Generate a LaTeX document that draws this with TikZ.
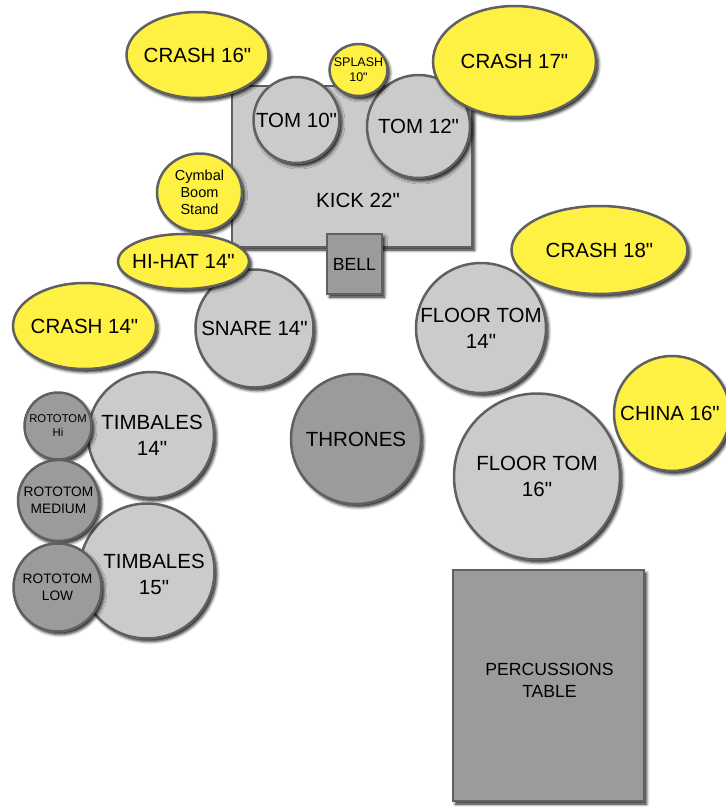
\documentclass[tikz,border=0pt]{standalone}
\usepackage{fontspec}
\setmainfont{Liberation Sans}[Ligatures=TeXOff]
\usetikzlibrary{shapes.geometric,shadows.blur}
\definecolor{cymyel}{HTML}{FFF044}
\definecolor{drumlt}{HTML}{CBCBCB}
\definecolor{drumdk}{HTML}{9B9B9B}
\definecolor{rim}{HTML}{606060}
\tikzset{
  base/.style={draw=rim, line width=2.5pt, inner sep=0pt, text=black, align=center,
    blur shadow={shadow xshift=2.5pt, shadow yshift=-3pt, shadow blur radius=3pt, shadow opacity=90}},
  drum/.style={base, circle, fill=drumlt, minimum size=#1},
  ddrum/.style={base, circle, fill=drumdk, minimum size=#1},
  cym/.style={base, ellipse, fill=cymyel},
  box/.style={base, rectangle},
  lbl/.style={inner sep=0pt, align=center, text=black},
  big/.style={font=\fontsize{20.5}{26}\selectfont},
}
\begin{document}
\begin{tikzpicture}[x=1pt,y=-1pt]
\useasboundingbox (0,0) rectangle (726,807);
% kick
\node[box, fill=drumlt, minimum width=240, minimum height=161] (kick) at (352,166.5) {};
\node[lbl, big] (kicklbl) at (358,200) {KICK 22"};
% toms
\node[drum=86, big] (tom10) at (296.5,120) {TOM 10"};
\node[drum=103, big] (tom12) at (418.5,126.5) {TOM 12"};
% cymbals top
\node[cym, minimum width=142, minimum height=86] (crash16) at (197.5,55) {};
\node[lbl, big] (crash16lbl) at (crash16) {CRASH 16"};
\node[cym, minimum width=58, minimum height=52] (splash) at (358.5,70) {};
\node[lbl, font=\fontsize{12.5}{15}\selectfont] (splashlbl) at (splash) {SPLASH\\10"};
\node[cym, minimum width=163, minimum height=111] (crash17) at (514.5,61.5) {};
\node[lbl, big] (crash17lbl) at (crash17) {CRASH 17"};
\node[cym, minimum width=85, minimum height=78] (boom) at (199.5,192.5) {};
\node[lbl, font=\fontsize{14.5}{17.3}\selectfont] (boomlbl) at (boom) {Cymbal\\Boom\\Stand};
% snare and hihat
\node[drum=118, big] (snare) at (254.5,328.5) {SNARE 14"};
\node[cym, minimum width=131, minimum height=55] (hihat) at (183.5,261.5) {};
\node[lbl, big] (hihatlbl) at (hihat) {HI-HAT 14"};
\node[box, fill=drumdk, minimum width=55, minimum height=60, font=\fontsize{17.6}{21}\selectfont] (bell) at (354.5,264) {BELL};
% crash 14
\node[cym, minimum width=143, minimum height=86] (crash14) at (84.5,326) {};
\node[lbl, big] (crash14lbl) at (crash14) {CRASH 14"};
% timbales & rototoms
\node[drum=126] (timb14) at (151,435) {};
\node[lbl, big] (timb14lbl) at (152,435) {TIMBALES\\14"};
\node[ddrum=67, font=\fontsize{11.3}{14}\selectfont] (rotohi) at (58,426) {ROTOTOM\\Hi};
\node[drum=135] (timb15) at (147,571) {};
\node[lbl, big] (timb15lbl) at (154,574) {TIMBALES\\15"};
\node[ddrum=81, font=\fontsize{13.7}{17}\selectfont] (rotomed) at (58.5,500.5) {ROTOTOM\\MEDIUM};
\node[ddrum=88, font=\fontsize{13.7}{17}\selectfont] (rotolow) at (57.5,587.5) {ROTOTOM\\LOW};
% thrones
\node[ddrum=130, big] (thrones) at (356,439) {THRONES};
% right side
\node[drum=130, big] (ft14) at (481,328) {FLOOR TOM\\14"};
\node[cym, minimum width=176, minimum height=88] (crash18) at (599.5,250) {};
\node[lbl, big] (crash18lbl) at (crash18) {CRASH 18"};
\node[drum=166, big] (ft16) at (537,476.5) {FLOOR TOM\\16"};
\node[cym, minimum width=116, minimum height=115] (china) at (672,413.5) {};
\node[lbl, big] (chinalbl) at (670,413.5) {CHINA 16"};
% percussion table
\node[box, fill=drumdk, minimum width=191, minimum height=231] (table) at (548.5,685.5) {};
\node[lbl, font=\fontsize{17.6}{21.7}\selectfont] (tablelbl) at (549.5,680) {PERCUSSIONS\\TABLE};
\end{tikzpicture}
\end{document}
